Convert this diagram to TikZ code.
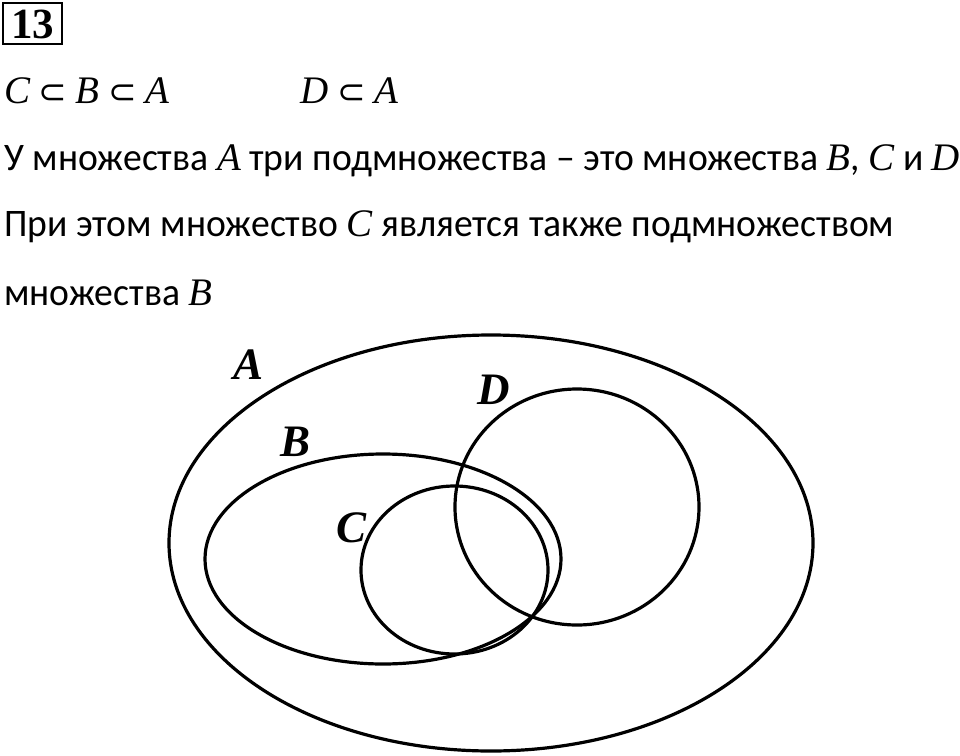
\documentclass[tikz,border=0pt]{standalone}
\usepackage{fontspec}
\setmainfont{Carlito}[FakeStretch=0.965]
\newfontfamily\letterfont{Liberation Serif}
\newfontfamily\symbfont{DejaVu Sans}
\newcommand{\setname}[1]{{\letterfont\itshape #1}}
\newcommand{\subsetsign}{{\symbfont\fontsize{17}{20}\selectfont ⊂}}

\tikzset{
  textline/.style={anchor=base west,inner sep=0pt,font=\fontsize{19.5}{24}\selectfont},
  setlabel/.style={inner sep=0pt,font=\letterfont\bfseries\itshape\fontsize{22.5}{27}\selectfont},
  setline/.style={line width=1.6pt},
}

\begin{document}
\begin{tikzpicture}[x=0.5pt,y=0.5pt,yscale=-1,xscale=1]
\fill[white] (0,0) rectangle (960,756);
\useasboundingbox (0,0) rectangle (960,756);
% task number
\draw [line width=1.3pt] (3,3) rectangle (62,44);
\draw (32.5,24) node (num) [inner sep=0pt,font=\letterfont\bfseries\fontsize{21.5}{24}\selectfont] {13};
% relations
\draw (4,103) node (relcb) [textline] {\setname{C} \subsetsign{} \setname{B} \subsetsign{} \setname{A}};
\draw (300,103) node (reld) [textline] {\setname{D} \subsetsign{} \setname{A}};
% explanation
\draw (4,170) node (txta) [textline] {У множества \setname{A} три подмножества – это множества \setname{B}, \setname{C} и \setname{D}};
\draw (4,236) node (txtb) [textline] {При этом множество \setname{C} является также подмножеством};
\draw (4,305) node (txtc) [textline] {множества \setname{B}};
% Euler diagram
\draw [setline] (491,543) ellipse [x radius=322, y radius=208];
\draw [setline] (383,559) ellipse [x radius=178, y radius=105];
\draw [setline] (454.5,570) ellipse [x radius=93.5, y radius=84];
\draw [setline] (577,507) ellipse [x radius=122, y radius=118];
\draw (249,365) node (lblA) [setlabel] {A};
\draw (296,442) node (lblB) [setlabel] {B};
\draw (352,528) node (lblC) [setlabel] {C};
\draw (494,390) node (lblD) [setlabel] {D};
\end{tikzpicture}
\end{document}
